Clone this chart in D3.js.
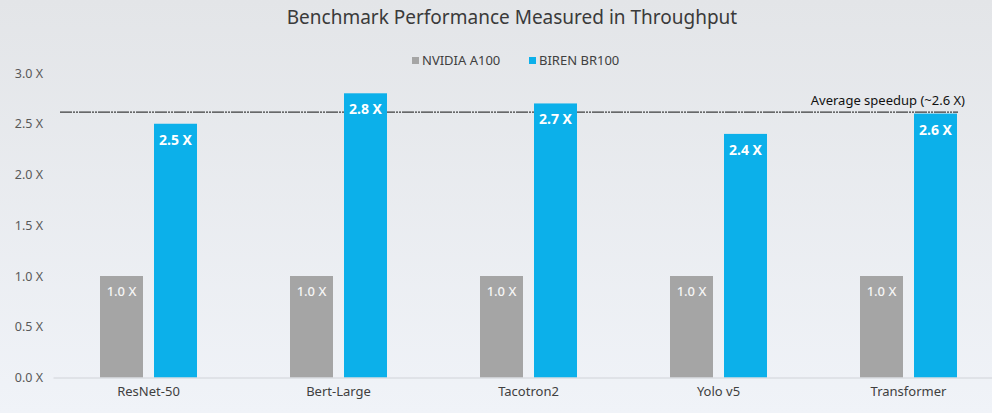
<!DOCTYPE html>
<html><head><meta charset="utf-8">
<script src="https://cdn.jsdelivr.net/npm/d3@7"></script>
<style>
html,body{margin:0;padding:0;background:#eceef1;}
svg{display:block;font-family:"Noto Sans",sans-serif;}
</style></head><body>
<svg id="c" width="992" height="413"></svg>
<script>
const categories = ["ResNet-50","Bert-Large","Tacotron2","Yolo v5","Transformer"];
const seriesNames = ["NVIDIA A100","BIREN BR100"];
const a100 = [1.0,1.0,1.0,1.0,1.0];
const br100 = [2.5,2.8,2.7,2.4,2.6];
const yTicks = [0,0.5,1.0,1.5,2.0,2.5,3.0];
const averageSpeedup = 2.6;
const colors = ["#a5a5a5","#0cb0ea"];

const W=992,H=413;
const svg=d3.select("#c");
const defs=svg.append("defs");
const g=defs.append("linearGradient").attr("id","bg").attr("x1",0).attr("y1",0).attr("x2",0).attr("y2",1);
g.append("stop").attr("offset","0%").attr("stop-color","#e3e5e8");
g.append("stop").attr("offset","100%").attr("stop-color","#f0f3f8");
svg.append("rect").attr("width",W).attr("height",H).attr("fill","url(#bg)");

const x=d3.scaleBand().domain(categories).range([53.5,1003.5]);
const y=d3.scaleLinear().domain([0,3]).range([377.5,73]);
const barW=43, gap=11;

// title
svg.append("text").attr("x",512).attr("y",24).attr("text-anchor","middle")
  .attr("font-size",19).attr("fill","#3a3a3a").text("Benchmark Performance Measured in Throughput");

// legend
const lg=[{x:412,c:colors[0],t:seriesNames[0]},{x:529,c:colors[1],t:seriesNames[1]}];
lg.forEach(d=>{
  svg.append("rect").attr("x",d.x).attr("y",57).attr("width",7).attr("height",7).attr("fill",d.c);
  svg.append("text").attr("x",d.x+10).attr("y",65).attr("font-size",13).attr("fill","#404040").text(d.t);
});

// y axis labels
const yAxis=d3.axisLeft(y).tickValues(yTicks).tickFormat(d=>d3.format(".1f")(d)+" X").tickSize(0).tickPadding(0);
const ya=svg.append("g").attr("transform","translate(43,0)").call(yAxis);
ya.select(".domain").remove();
ya.selectAll("text").attr("font-size",12.5).attr("fill","#595959").attr("font-family","Noto Sans, sans-serif");

// average line
svg.append("line").attr("x1",60).attr("x2",958).attr("y1",y(averageSpeedup)-1.5).attr("y2",y(averageSpeedup)-1.5)
  .attr("stroke","#111").attr("stroke-width",1).attr("stroke-dasharray","12,1,2,1,2,1");
svg.append("text").attr("x",965).attr("y",105).attr("text-anchor","end").attr("font-size",13).attr("fill","#111")
  .text("Average speedup (~2.6 X)");

// bars
const data=categories.map((c,i)=>({c,a:a100[i],b:br100[i]}));
const grp=svg.append("g");
data.forEach(d=>{
  const cx=x(d.c)+x.bandwidth()/2;
  const xa=cx-gap/2-barW, xb=cx+gap/2;
  grp.append("rect").attr("x",xa).attr("y",y(d.a)).attr("width",barW).attr("height",y(0)-y(d.a)).attr("fill",colors[0]);
  grp.append("rect").attr("x",xb).attr("y",y(d.b)).attr("width",barW).attr("height",y(0)-y(d.b)).attr("fill",colors[1]);
  grp.append("text").attr("x",xa+barW/2).attr("y",y(d.a)+20).attr("text-anchor","middle").attr("font-size",13)
    .attr("font-weight",500).attr("fill","#f6f6f6").text(d3.format(".1f")(d.a)+" X");
  grp.append("text").attr("x",xb+barW/2).attr("y",y(d.b)+21).attr("text-anchor","middle").attr("font-size",14)
    .attr("font-weight","bold").attr("fill","#fff").text(d3.format(".1f")(d.b)+" X");
});

// x axis
const xAxis=d3.axisBottom(x).tickSize(0).tickPadding(9);
const xa=svg.append("g").attr("transform",`translate(0,${y(0)})`).call(xAxis);
xa.select(".domain").attr("stroke","#d0d3d8").attr("d","M53.5,0.5H992");
xa.selectAll("text").attr("font-size",13).attr("fill","#404040").attr("font-family","Noto Sans, sans-serif");
</script>
</body></html>
